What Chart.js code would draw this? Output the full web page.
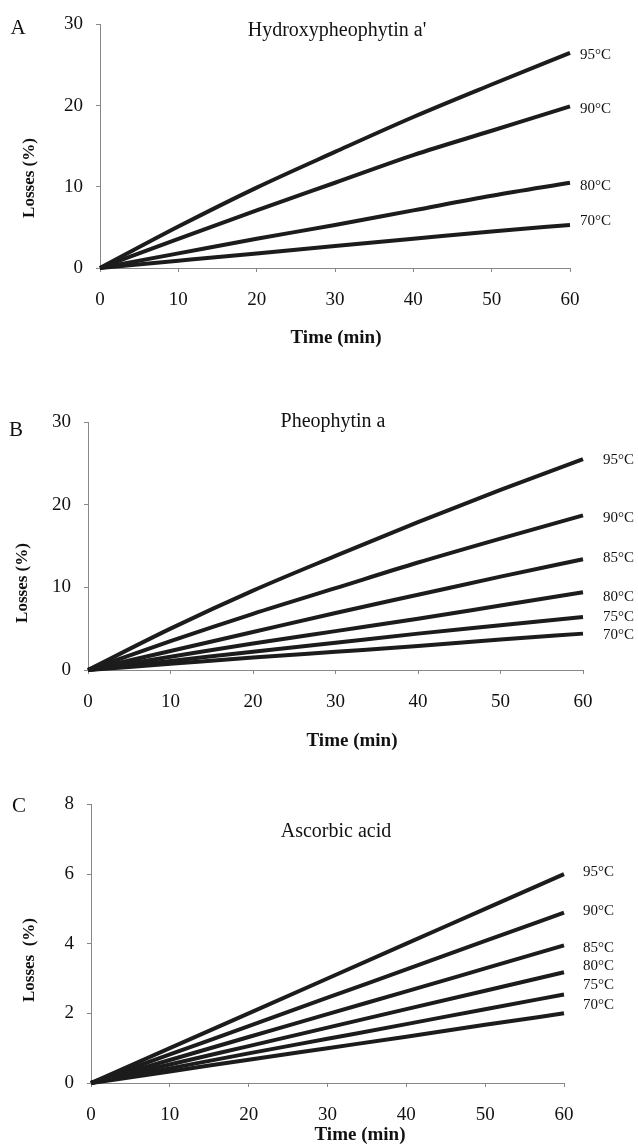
<!DOCTYPE html>
<html>
<head>
<meta charset="utf-8">
<script src="https://cdn.jsdelivr.net/npm/chart.js@4"></script>
<style>
  body { margin: 0; background: #fff; }
  .panel { position: absolute; left: 0; }
</style>
</head>
<body>
<canvas id="graficoA" class="panel" style="top:0px" width="638" height="380"></canvas>
<canvas id="graficoB" class="panel" style="top:380px" width="638" height="400"></canvas>
<canvas id="graficoC" class="panel" style="top:780px" width="638" height="365"></canvas>
<script>
// tempo (min)
const times = [0, 10, 20, 30, 40, 50, 60];

// A - hydroxypheophytin a'
const tempsA = ["95°C", "90°C", "80°C", "70°C"];
const hydroxy95 = [0, 5.1, 9.9, 14.3, 18.6, 22.6, 26.5];
const hydroxy90 = [0, 3.6, 7.1, 10.5, 13.9, 16.9, 19.9];
const hydroxy80 = [0, 1.8, 3.6, 5.3, 7.1, 8.9, 10.5];
const hydroxy70 = [0, 0.9, 1.8, 2.7, 3.6, 4.5, 5.3];

// B - pheophytin a
const tempsB = ["95°C", "90°C", "85°C", "80°C", "75°C", "70°C"];
const pheo95 = [0, 5.0, 9.6, 13.8, 17.9, 21.8, 25.5];
const pheo90 = [0, 3.5, 6.8, 9.9, 13.0, 15.9, 18.7];
const pheo85 = [0, 2.3, 4.6, 6.9, 9.1, 11.3, 13.4];
const pheo80 = [0, 1.6, 3.2, 4.7, 6.2, 7.8, 9.4];
const pheo75 = [0, 1.1, 2.2, 3.3, 4.4, 5.4, 6.4];
const pheo70 = [0, 0.75, 1.5, 2.2, 2.9, 3.7, 4.4];

// C - ascorbic acid
const tempsC = ["95°C", "90°C", "85°C", "80°C", "75°C", "70°C"];
const ascorbic95 = [0, 1.0, 2.0, 3.0, 4.0, 5.0, 6.0];
const ascorbic90 = [0, 0.82, 1.63, 2.45, 3.26, 4.08, 4.89];
const ascorbic85 = [0, 0.66, 1.32, 1.98, 2.63, 3.29, 3.95];
const ascorbic80 = [0, 0.53, 1.06, 1.59, 2.12, 2.65, 3.18];
const ascorbic75 = [0, 0.42, 0.85, 1.27, 1.69, 2.12, 2.54];
const ascorbic70 = [0, 0.33, 0.67, 1.0, 1.33, 1.67, 2.0];

const serif = '"Liberation Serif", "Times New Roman", serif';
Chart.defaults.font.family = serif;
Chart.defaults.color = "#111";

// textos do painel: letra, titulo, eixos, rotulos das series
const panelText = {
    id: "panelText",
    afterDraw(chart, args, o) {
        const ctx = chart.ctx;
        const ys = chart.scales.y;
        ctx.save();
        ctx.fillStyle = "#111";
        ctx.textBaseline = "middle";
        ctx.textAlign = "center";

        ctx.font = "21px " + serif;
        ctx.fillText(o.letter, o.letterAt[0], o.letterAt[1]);

        ctx.font = "20px " + serif;
        ctx.fillText(o.title, o.titleAt[0], o.titleAt[1]);

        ctx.font = "bold 19px " + serif;
        ctx.fillText("Time (min)", o.xTitleAt[0], o.xTitleAt[1]);

        ctx.save();
        ctx.translate(o.yTitleAt[0], o.yTitleAt[1]);
        ctx.rotate(-Math.PI / 2);
        ctx.font = "bold 17px " + serif;
        ctx.fillText(o.yTitle, 0, 0);
        ctx.restore();

        ctx.font = "15px " + serif;
        ctx.textAlign = "left";
        chart.data.datasets.forEach((ds, i) => {
            const last = ds.data[ds.data.length - 1];
            ctx.fillText(ds.label, o.labelX, ys.getPixelForValue(last.y) + o.nudge[i]);
        });
        ctx.restore();
    }
};

function makePanel(id, labels, series, yMax, yStep, box, text) {
    const H = document.getElementById(id).height;
    return new Chart(document.getElementById(id), {
        type: "line",
        data: {
            datasets: series.map((s, i) => ({
                label: labels[i],
                data: times.map((t, j) => ({ x: t, y: s[j] })),
                borderColor: "#1c1c1c",
                borderWidth: 4,
                pointRadius: 0,
                cubicInterpolationMode: "monotone",
                clip: false
            }))
        },
        options: {
            responsive: false,
            animation: false,
            layout: { padding: { left: 0, top: box.top, right: 638 - box.right, bottom: 0 } },
            plugins: {
                legend: { display: false },
                tooltip: { enabled: false },
                panelText: text
            },
            scales: {
                x: {
                    type: "linear",
                    min: 0, max: 60,
                    ticks: { stepSize: 10, padding: 17, font: { size: 19 } },
                    grid: { drawOnChartArea: false, tickLength: 4, color: "#888" },
                    border: { color: "#888" },
                    afterFit: (s) => { s.height = H - box.bottom; }
                },
                y: {
                    min: 0, max: yMax,
                    ticks: { stepSize: yStep, padding: 13, font: { size: 19 } },
                    grid: { drawOnChartArea: false, tickLength: 4, color: "#888" },
                    border: { color: "#888" },
                    afterFit: (s) => { s.width = box.left; }
                }
            }
        },
        plugins: [panelText]
    });
}

makePanel("graficoA", tempsA, [hydroxy95, hydroxy90, hydroxy80, hydroxy70], 30, 10,
    { left: 100, right: 570, top: 17, bottom: 268 },
    {
        letter: "A", letterAt: [18, 28],
        title: "Hydroxypheophytin a'", titleAt: [337, 31],
        xTitleAt: [336, 338],
        yTitle: "Losses (%)", yTitleAt: [30, 178],
        labelX: 580, nudge: [2, 3, 3, -4]
    });

makePanel("graficoB", tempsB, [pheo95, pheo90, pheo85, pheo80, pheo75, pheo70], 30, 10,
    { left: 88, right: 583, top: 42, bottom: 290 },
    {
        letter: "B", letterAt: [16, 50],
        title: "Pheophytin a", titleAt: [333, 42],
        xTitleAt: [352, 361],
        yTitle: "Losses (%)", yTitleAt: [23, 203],
        labelX: 603, nudge: [1, 3, -1, 5, 0, 1]
    });

makePanel("graficoC", tempsC, [ascorbic95, ascorbic90, ascorbic85, ascorbic80, ascorbic75, ascorbic70], 8, 2,
    { left: 91, right: 564, top: 20, bottom: 303 },
    {
        letter: "C", letterAt: [19, 26],
        title: "Ascorbic acid", titleAt: [336, 52],
        xTitleAt: [360, 355],
        yTitle: "Losses  (%)", yTitleAt: [30, 180],
        labelX: 583, nudge: [-2, -2, 3, -6, -9, -8]
    });
</script>
</body>
</html>
